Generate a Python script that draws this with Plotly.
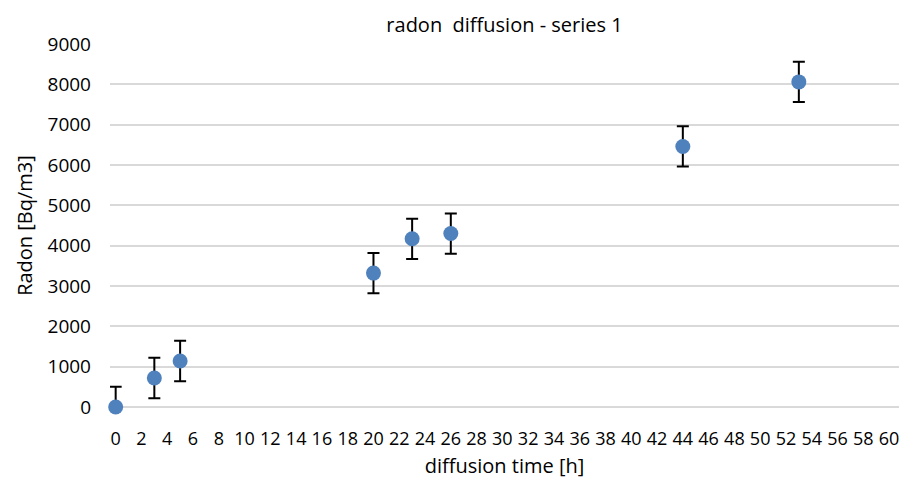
import plotly.graph_objects as go

time_h = [0, 3, 5, 20, 23, 26, 44, 53]
radon = [0, 720, 1140, 3320, 4170, 4300, 6460, 8060]
radon_err = [500, 500, 500, 500, 500, 500, 500, 500]
x_ticks = list(range(0, 61, 2))
y_ticks = list(range(0, 9001, 1000))

FONT = "Open Sans"
blue = "#4f81bd"

fig = go.Figure()
# error bars (clipped at plot area)
fig.add_trace(go.Scatter(
    x=time_h, y=radon, mode="markers",
    marker=dict(size=14, color="rgba(0,0,0,0)"),
    error_y=dict(type="data", array=radon_err, visible=True,
                 color="black", thickness=2, width=6),
    cliponaxis=True, showlegend=False, hoverinfo="skip"))
# markers (not clipped)
fig.add_trace(go.Scatter(
    x=time_h, y=radon, mode="markers",
    marker=dict(size=15, color=blue),
    cliponaxis=False, showlegend=False))

fig.update_layout(
    width=904, height=481,
    margin=dict(l=110, r=5, t=44, b=74),
    paper_bgcolor="white", plot_bgcolor="white",
    font=dict(family=FONT, size=19, color="black"),
    title=dict(text="radon  diffusion - series 1", x=0.5, xref="paper",
               y=1 - 25 / 481, yref="container", xanchor="center", yanchor="middle",
               font=dict(size=20, family=FONT, color="black")),
)
fig.update_xaxes(
    range=[-0.44, 60.77], tickvals=x_ticks, ticktext=[str(v) for v in x_ticks],
    showgrid=False, zeroline=False, showline=False, ticks="",
    ticklabelstandoff=19, tickfont=dict(size=18),
    title=dict(text="diffusion time [h]", standoff=9, font=dict(size=20)),
)
fig.update_yaxes(
    range=[0, 9000], tickvals=y_ticks, ticktext=[str(v) for v in y_ticks],
    showgrid=True, gridcolor="#d9d9d9", gridwidth=1.5,
    zeroline=True, zerolinecolor="#d9d9d9", zerolinewidth=1.5,
    showline=False, ticks="", ticklabelstandoff=18, tickfont=dict(size=19),
    title=dict(text="Radon [Bq/m3]", standoff=9, font=dict(size=20)),
)

fig.write_html("out.html", config={"displayModeBar": False},
               post_script="document.body.style.margin='0';document.body.style.padding='0';")
